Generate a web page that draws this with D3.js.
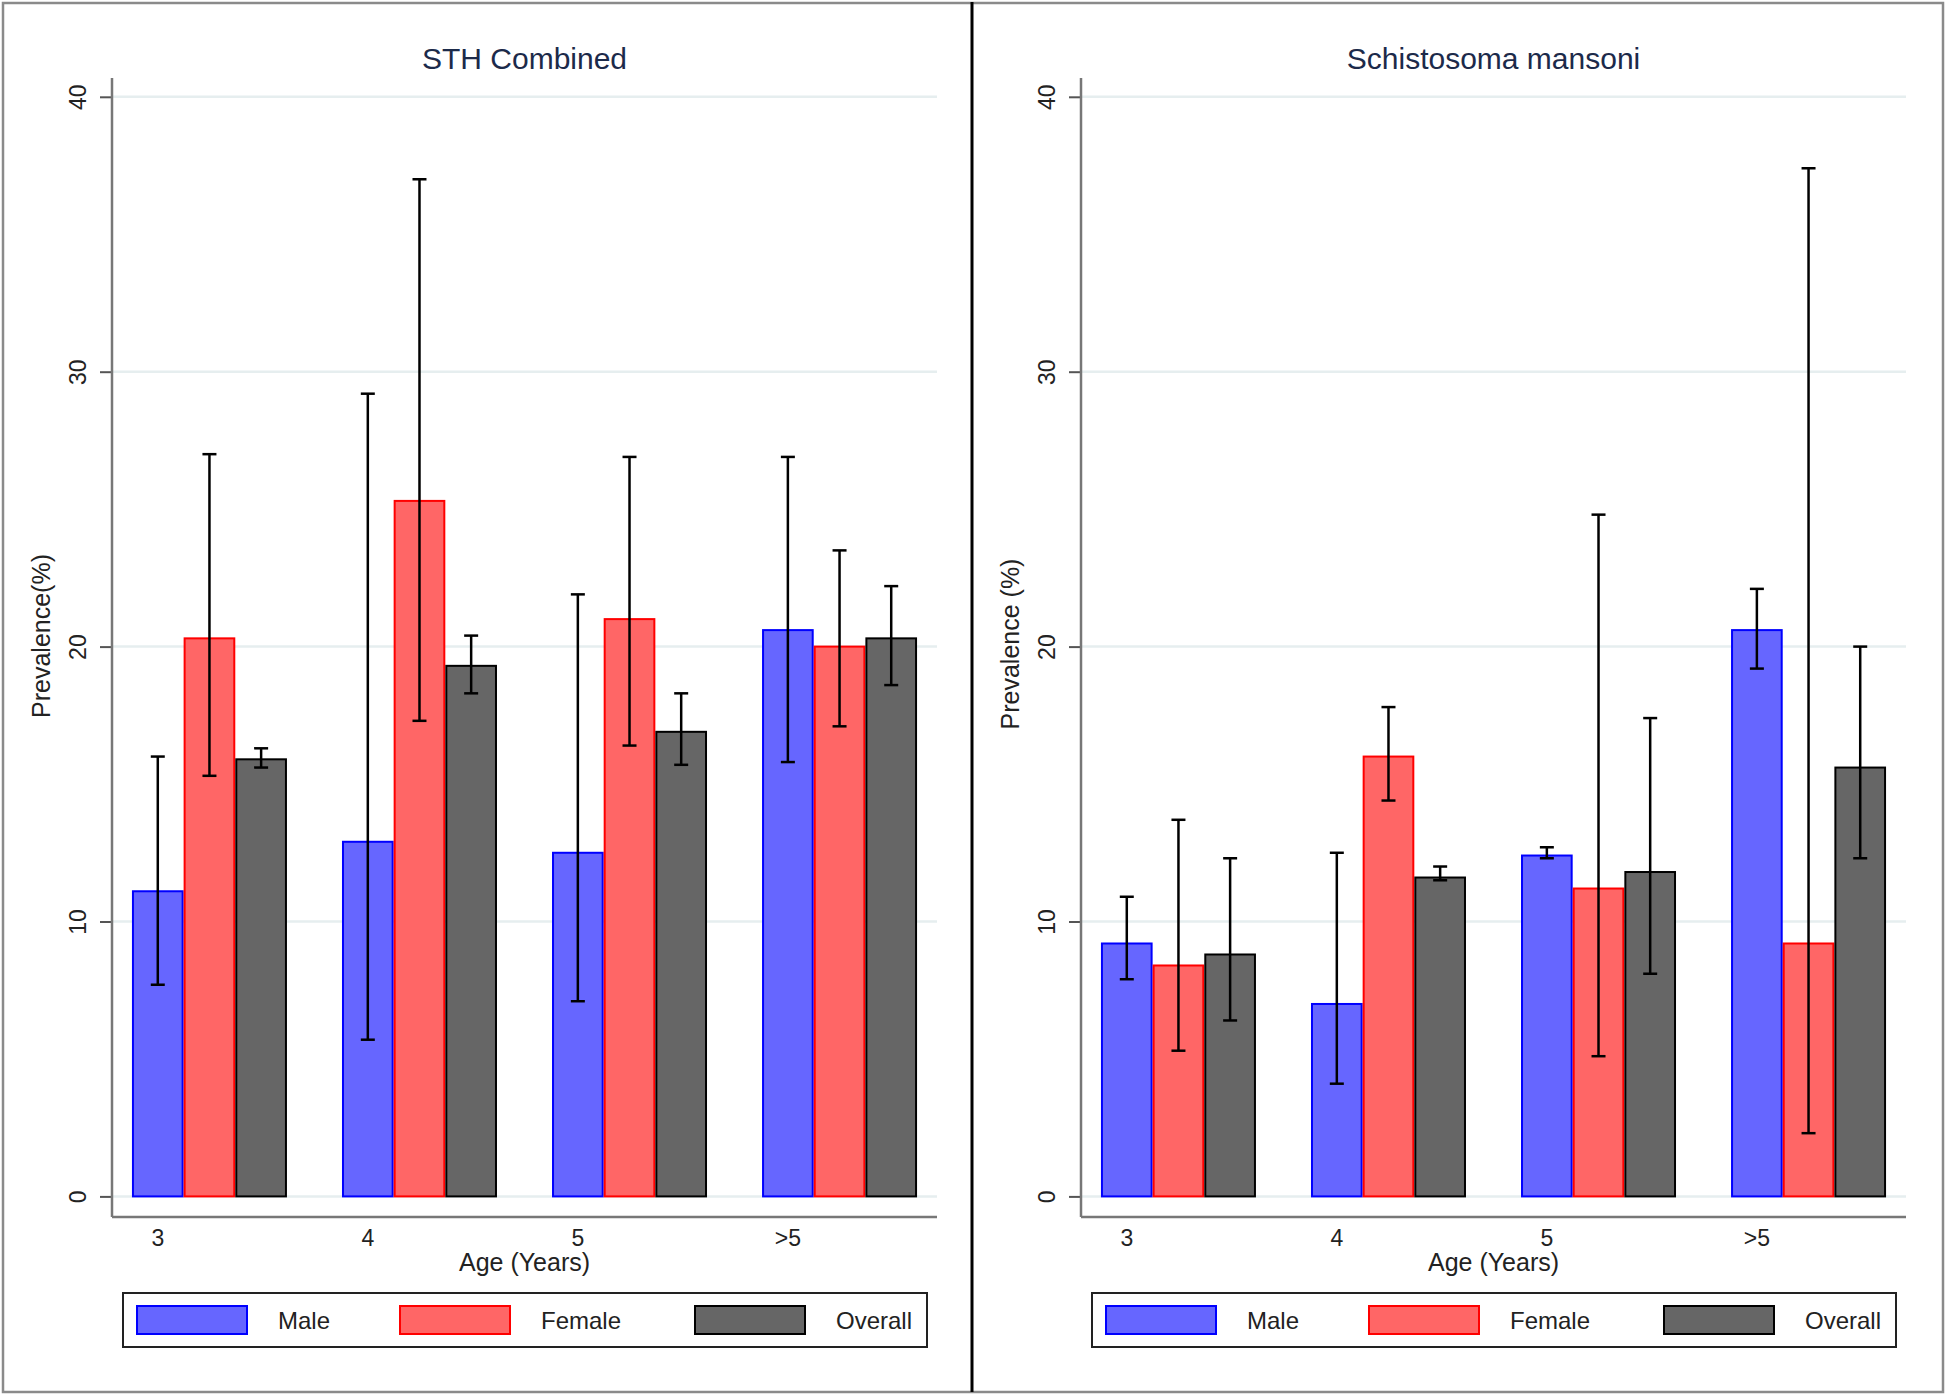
<!DOCTYPE html>
<html>
<head>
<meta charset="utf-8">
<script src="https://cdn.jsdelivr.net/npm/d3@7"></script>
<style>
  body { margin: 0; background: #fff; }
  svg { display: block; font-family: "Liberation Sans", Arial, sans-serif; }
</style>
</head>
<body>
<script>
const width = 1946, height = 1398;

// categories and series
const ages = ["3", "4", "5", ">5"];
const groups = ["Male", "Female", "Overall"];
const yTicks = [0, 10, 20, 30, 40];

// STH Combined: prevalence, lower CI, upper CI (per age, Male/Female/Overall)
const sthValues = [[11.1, 20.3, 15.9], [12.9, 25.3, 19.3], [12.5, 21.0, 16.9], [20.6, 20.0, 20.3]];
const sthLower  = [[7.7, 15.3, 15.6], [5.7, 17.3, 18.3], [7.1, 16.4, 15.7], [15.8, 17.1, 18.6]];
const sthUpper  = [[16.0, 27.0, 16.3], [29.2, 37.0, 20.4], [21.9, 26.9, 18.3], [26.9, 23.5, 22.2]];

// Schistosoma mansoni
const smValues = [[9.2, 8.4, 8.8], [7.0, 16.0, 11.6], [12.4, 11.2, 11.8], [20.6, 9.2, 15.6]];
const smLower  = [[7.9, 5.3, 6.4], [4.1, 14.4, 11.5], [12.3, 5.1, 8.1], [19.2, 2.3, 12.3]];
const smUpper  = [[10.9, 13.7, 12.3], [12.5, 17.8, 12.0], [12.7, 24.8, 17.4], [22.1, 37.4, 20.0]];

const fills = { Male: "#6666ff", Female: "#ff6666", Overall: "#666666" };
const strokes = { Male: "#0000ff", Female: "#ff0000", Overall: "#000000" };

const svg = d3.select("body").append("svg")
    .attr("width", width)
    .attr("height", height);

// outer frame
svg.append("rect")
    .attr("x", 3).attr("y", 3)
    .attr("width", 1940).attr("height", 1389)
    .attr("fill", "none")
    .attr("stroke", "#8a8a8a")
    .attr("stroke-width", 2.5);

const draw_panel = (offsetX, title, yLabel, labelY, values, lower, upper) => {
    const g = svg.append("g").attr("transform", "translate(" + offsetX + ",0)");

    const left = 112, right = 937, top = 78, xAxisY = 1217;

    const y = d3.scaleLinear().domain([0, 40]).range([1196.4, 96.8]);

    const x0 = d3.scaleBand().domain(ages).range([left, right])
        .paddingInner(0.262).paddingOuter(0.095);
    const x1 = d3.scaleBand().domain(groups).range([0, x0.bandwidth()]);

    // gridlines
    g.append("g")
        .selectAll("line")
        .data(yTicks)
        .join("line")
        .attr("x1", left).attr("x2", right)
        .attr("y1", d => y(d)).attr("y2", d => y(d))
        .attr("stroke", "#e6eeef")
        .attr("stroke-width", 2.5);

    // y axis
    const yAxis = g.append("g")
        .attr("transform", "translate(" + left + ",0)")
        .call(d3.axisLeft(y).tickValues(yTicks).tickSize(12).tickFormat(d3.format("d")));
    yAxis.select(".domain").remove();
    yAxis.selectAll(".tick line").attr("stroke", "#555").attr("stroke-width", 2);
    yAxis.selectAll(".tick text")
        .attr("transform", "rotate(-90)")
        .attr("x", 0).attr("y", -26).attr("dy", null)
        .attr("text-anchor", "middle")
        .attr("font-size", 23)
        .attr("fill", "#222");

    g.append("line")
        .attr("x1", left).attr("x2", left)
        .attr("y1", top).attr("y2", xAxisY)
        .attr("stroke", "#777").attr("stroke-width", 2.5);

    // x axis line
    g.append("line")
        .attr("x1", left).attr("x2", right)
        .attr("y1", xAxisY).attr("y2", xAxisY)
        .attr("stroke", "#777").attr("stroke-width", 2.5);

    // category labels under the first bar of each group
    g.append("g")
        .selectAll("text")
        .data(ages)
        .join("text")
        .attr("x", d => x0(d) + x1("Male") + x1.bandwidth() / 2)
        .attr("y", 1246)
        .attr("text-anchor", "middle")
        .attr("font-size", 23)
        .attr("fill", "#222")
        .text(d => d);

    // bars
    const groupG = g.append("g")
        .selectAll("g")
        .data(ages)
        .join("g")
        .attr("transform", d => "translate(" + x0(d) + ",0)");

    groupG.selectAll("rect")
        .data((d, i) => groups.map((s, j) => ({ s: s, v: values[i][j] })))
        .join("rect")
        .attr("x", d => x1(d.s) + 1)
        .attr("y", d => y(d.v))
        .attr("width", x1.bandwidth() - 2)
        .attr("height", d => y(0) - y(d.v))
        .attr("fill", d => fills[d.s])
        .attr("stroke", d => strokes[d.s])
        .attr("stroke-width", 2);

    // error bars
    const err = groupG.selectAll("g.err")
        .data((d, i) => groups.map((s, j) => ({ s: s, lo: lower[i][j], hi: upper[i][j] })))
        .join("g")
        .attr("class", "err")
        .attr("stroke", "#000")
        .attr("stroke-width", 2.5);
    const cx = d => x1(d.s) + x1.bandwidth() / 2;
    err.append("line")
        .attr("x1", cx).attr("x2", cx)
        .attr("y1", d => y(d.hi)).attr("y2", d => y(d.lo));
    err.append("line")
        .attr("x1", d => cx(d) - 7).attr("x2", d => cx(d) + 7)
        .attr("y1", d => y(d.hi)).attr("y2", d => y(d.hi));
    err.append("line")
        .attr("x1", d => cx(d) - 7).attr("x2", d => cx(d) + 7)
        .attr("y1", d => y(d.lo)).attr("y2", d => y(d.lo));

    // titles
    g.append("text")
        .attr("x", (left + right) / 2).attr("y", 69)
        .attr("text-anchor", "middle")
        .attr("font-size", 30)
        .attr("fill", "#1c2a4a")
        .text(title);

    g.append("text")
        .attr("x", (left + right) / 2).attr("y", 1271)
        .attr("text-anchor", "middle")
        .attr("font-size", 25)
        .attr("fill", "#222")
        .text("Age (Years)");

    g.append("text")
        .attr("transform", "translate(50," + labelY + ") rotate(-90)")
        .attr("text-anchor", "middle")
        .attr("font-size", 25)
        .attr("fill", "#222")
        .text(yLabel);

    // legend
    const lg = g.append("g");
    lg.append("rect")
        .attr("x", 123).attr("y", 1293)
        .attr("width", 804).attr("height", 54)
        .attr("fill", "#fff")
        .attr("stroke", "#222")
        .attr("stroke-width", 2);
    const swatchX = [137, 400, 695];
    const item = lg.selectAll("g.item")
        .data(groups)
        .join("g")
        .attr("class", "item")
        .attr("transform", (d, i) => "translate(" + swatchX[i] + ",0)");
    item.append("rect")
        .attr("x", 0).attr("y", 1306)
        .attr("width", 110).attr("height", 28)
        .attr("fill", d => fills[d])
        .attr("stroke", d => strokes[d])
        .attr("stroke-width", 2);
    item.append("text")
        .attr("x", 141).attr("y", 1329)
        .attr("font-size", 24)
        .attr("fill", "#222")
        .text(d => d);
};

draw_panel(0, "STH Combined", "Prevalence(%)", 636, sthValues, sthLower, sthUpper);
draw_panel(969, "Schistosoma mansoni", "Prevalence (%)", 644, smValues, smLower, smUpper);

// divider between the two graphs
svg.append("line")
    .attr("x1", 972).attr("x2", 972)
    .attr("y1", 2).attr("y2", 1392)
    .attr("stroke", "#000")
    .attr("stroke-width", 3);
</script>
</body>
</html>
